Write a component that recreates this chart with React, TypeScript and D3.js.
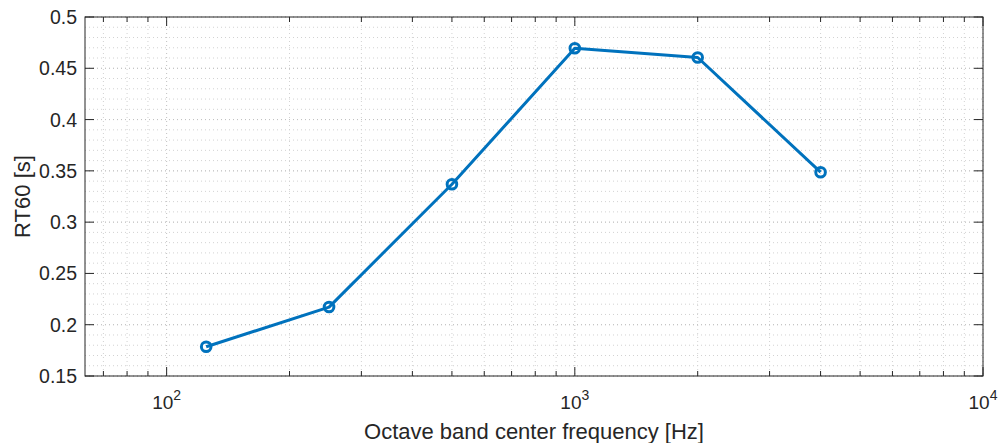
import React from "react";
import * as d3 from "d3";

// Octave band centre frequencies and measured reverberation time
const bandFreqs = [125, 250, 500, 1000, 2000, 4000];
const rt60 = [0.1785, 0.2172, 0.337, 0.4695, 0.4605, 0.3487];
const yTicks = [0.15, 0.2, 0.25, 0.3, 0.35, 0.4, 0.45, 0.5];
const xMajorExps = [2, 3, 4];

const W = 998;
const H = 443;
const margin = { left: 85, right: 15, top: 17, bottom: 67 };

export default function App() {
  const x = d3
    .scaleLog()
    .domain([63.1, 10000])
    .range([margin.left, W - margin.right]);
  const y = d3
    .scaleLinear()
    .domain([0.15, 0.5])
    .range([H - margin.bottom, margin.top]);

  const [x0, x1] = x.range();
  const [y0, y1] = y.range();

  // minor x positions (2..9 × decade) inside the domain
  const xMinor: number[] = [];
  for (let e = 1; e <= 3; e++) {
    for (let m = 2; m <= 9; m++) {
      const v = m * Math.pow(10, e);
      if (v >= x.domain()[0] && v <= x.domain()[1]) xMinor.push(v);
    }
  }
  const xMajor = xMajorExps.map((e) => Math.pow(10, e));
  const yMinor = d3.range(0.15, 0.5001, 0.01).map((v) => +v.toFixed(2));

  const line = d3
    .line<number>()
    .x((_, i) => x(bandFreqs[i]))
    .y((d) => y(d));

  const axisColor = "#262626";
  const font = "'Liberation Sans', Arial, Helvetica, sans-serif";

  return (
    <svg
      width={W}
      height={H}
      style={{ position: "absolute", left: 0, top: 0, background: "#fff" }}
      fontFamily={font}
    >
      <rect x={0} y={0} width={W} height={H} fill="#fff" />
      {/* minor grid */}
      <g stroke="#d2d2d2" strokeWidth={1} strokeDasharray="1,3">
        {xMinor.map((v) => (
          <line key={"xm" + v} x1={x(v)} x2={x(v)} y1={y1} y2={y0} />
        ))}
        {yMinor.map((v) => (
          <line key={"ym" + v} x1={x0} x2={x1} y1={y(v)} y2={y(v)} />
        ))}
      </g>
      {/* major grid */}
      <g stroke="#c0c0c0" strokeWidth={1} strokeDasharray="1,3">
        {xMajor.map((v) => (
          <line key={"xM" + v} x1={x(v)} x2={x(v)} y1={y1} y2={y0} />
        ))}
        {yTicks.map((v) => (
          <line key={"yM" + v} x1={x0} x2={x1} y1={y(v)} y2={y(v)} />
        ))}
      </g>

      {/* data */}
      <path
        d={line(rt60) || ""}
        fill="none"
        stroke="#0072BD"
        strokeWidth={3}
        strokeLinejoin="round"
      />
      {rt60.map((v, i) => (
        <circle
          key={i}
          cx={x(bandFreqs[i])}
          cy={y(v)}
          r={4.8}
          fill="none"
          stroke="#0072BD"
          strokeWidth={3}
        />
      ))}

      {/* axes box and ticks */}
      <g stroke={axisColor} strokeWidth={1} fill="none">
        <rect x={x0} y={y1} width={x1 - x0} height={y0 - y1} />
        {xMajor.map((v) => (
          <g key={"t" + v}>
            <line x1={x(v)} x2={x(v)} y1={y0} y2={y0 - 9} />
            <line x1={x(v)} x2={x(v)} y1={y1} y2={y1 + 9} />
          </g>
        ))}
        {xMinor.map((v) => (
          <g key={"tm" + v}>
            <line x1={x(v)} x2={x(v)} y1={y0} y2={y0 - 5} />
            <line x1={x(v)} x2={x(v)} y1={y1} y2={y1 + 5} />
          </g>
        ))}
        {yTicks.map((v) => (
          <g key={"ty" + v}>
            <line x1={x0} x2={x0 + 9} y1={y(v)} y2={y(v)} />
            <line x1={x1} x2={x1 - 9} y1={y(v)} y2={y(v)} />
          </g>
        ))}
      </g>

      {/* y tick labels */}
      <g fill={axisColor} fontSize={19.5} textAnchor="end">
        {yTicks.map((v) => (
          <text key={"yl" + v} x={x0 - 8} y={y(v)} dy="0.36em">
            {String(v)}
          </text>
        ))}
      </g>
      {/* x tick labels */}
      <g fill={axisColor} fontSize={19} textAnchor="middle">
        {xMajorExps.map((e) => (
          <text key={"xl" + e} x={x(Math.pow(10, e))} y={y0 + 33}>
            10
            <tspan fontSize={14} dy={-9}>
              {e}
            </tspan>
          </text>
        ))}
      </g>

      <text
        x={(x0 + x1) / 2}
        y={H - 4}
        textAnchor="middle"
        fontSize={22}
        fill={axisColor}
      >
        Octave band center frequency [Hz]
      </text>
      <text
        transform={`translate(30,${(y0 + y1) / 2}) rotate(-90)`}
        textAnchor="middle"
        fontSize={22}
        fill={axisColor}
      >
        RT60 [s]
      </text>
    </svg>
  );
}
